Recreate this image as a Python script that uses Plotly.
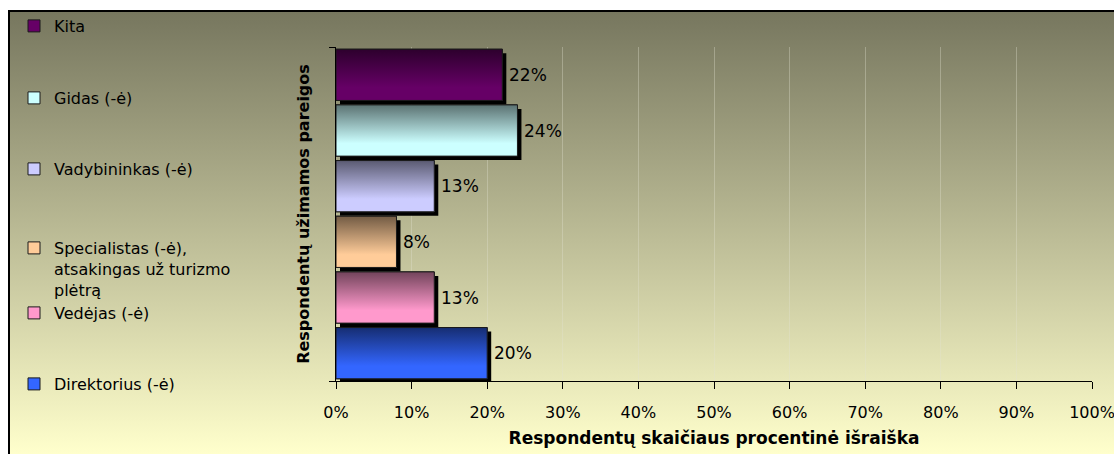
import base64
import plotly.graph_objects as go

# ---- data (bottom to top) ----
categories = ["Direktorius (-ė)", "Vedėjas (-ė)",
              "Specialistas (-ė),<br>atsakingas už turizmo<br>plėtrą",
              "Vadybininkas (-ė)", "Gidas (-ė)", "Kita"]
values = [20, 13, 8, 13, 24, 22]
base_colors = ["#3366ff", "#ff99cc", "#ffcc99", "#ccccff", "#ccffff", "#660066"]
x_ticks = list(range(0, 101, 10))
x_tick_labels = [f"{t}%" for t in x_ticks]
x_title = "Respondentų skaičiaus procentinė išraiška"
y_title = "Respondentų užimamos pareigos"

FONT = "DejaVu Sans"
W, H = 1114, 454
L, R, T, B = 336, 22, 47, 73
PW, PH = W - L - R, H - T - B
BAR_W = 0.92
SHADOW_DX = 4 * 100 / PW       # 4 px in x units
SHADOW_DY = 4 * len(categories) / PH  # 4 px in y units


def darken(hexc, f=0.45):
    h = hexc.lstrip("#")
    r, g, b = (int(h[i:i + 2], 16) for i in (0, 2, 4))
    return "#%02x%02x%02x" % (int(r * f), int(g * f), int(b * f))


def px_x(p):
    return (p - L) / PW


def px_y(p):
    return (H - B - p) / PH


fig = go.Figure()

# shadows
for i, v in enumerate(values):
    fig.add_trace(go.Bar(
        orientation="h", y=[i - SHADOW_DY], x=[v], base=[SHADOW_DX],
        width=BAR_W, marker=dict(color="black", line=dict(width=0)),
        showlegend=False, hoverinfo="skip"))

# main bars (legend)
legend_y_px = [384, 313, 242, 169, 98, 26]
for i, (c, v, col) in enumerate(zip(categories, values, base_colors)):
    fig.add_trace(go.Bar(
        orientation="h", y=[i], x=[v], width=BAR_W, name=c,
        marker=dict(color=col, line=dict(color="#1a1a1a", width=1)),
        legend="legend" if i == 0 else f"legend{i + 1}",
        hoverinfo="skip"))

# gradient overlay of each bar
for i, (v, col) in enumerate(zip(values, base_colors)):
    y0, y1 = i - BAR_W / 2, i + BAR_W / 2
    fig.add_trace(go.Scatter(
        x=[0, v, v, 0, 0], y=[y0, y0, y1, y1, y0], mode="lines",
        fill="toself",
        fillgradient=dict(type="vertical",
                          colorscale=[[0, col], [0.25, col], [1, darken(col)]]),
        line=dict(color="#1a1a1a", width=1),
        showlegend=False, hoverinfo="skip"))

# value labels
for i, v in enumerate(values):
    fig.add_annotation(x=v + SHADOW_DX, y=i, text=f"{v}%", showarrow=False,
                       xanchor="left", yanchor="middle", xshift=1,
                       font=dict(family=FONT, size=17, color="black"))

# background gradient
svg = ('<svg xmlns="http://www.w3.org/2000/svg" width="100" height="100" '
       'preserveAspectRatio="none"><defs><linearGradient id="g" x1="0" y1="0" '
       'x2="0" y2="1"><stop offset="0" stop-color="#76765e"/>'
       '<stop offset="1" stop-color="#ffffcc"/></linearGradient></defs>'
       '<rect width="100" height="100" fill="url(#g)"/></svg>')
uri = "data:image/svg+xml;base64," + base64.b64encode(svg.encode()).decode()
fig.add_layout_image(dict(source=uri, xref="paper", yref="paper",
                          x=px_x(8), y=px_y(10), sizex=(W - 8) / PW,
                          sizey=(H - 10) / PH, sizing="stretch",
                          xanchor="left", yanchor="top", layer="below"))
fig.add_shape(type="rect", xref="paper", yref="paper",
              x0=px_x(9), y0=px_y(H + 20), x1=px_x(W + 20), y1=px_y(11),
              line=dict(color="black", width=2), fillcolor="rgba(0,0,0,0)",
              layer="above")

layout_legends = {}
for i, py in enumerate(legend_y_px):
    key = "legend" if i == 0 else f"legend{i + 1}"
    if i == 2:
        ypos, yanch = px_y(py - 11), "top"
    else:
        ypos, yanch = px_y(py), "middle"
    layout_legends[key] = dict(
        x=px_x(14), y=ypos, xanchor="left", yanchor=yanch,
        bgcolor="rgba(0,0,0,0)", borderwidth=0, valign="top",
        font=dict(family=FONT, size=16, color="black"))

fig.update_layout(
    width=W, height=H,
    margin=dict(l=L, r=R, t=T, b=B, autoexpand=False),
    paper_bgcolor="white", plot_bgcolor="rgba(0,0,0,0)",
    barmode="overlay",
    showlegend=True,
    font=dict(family=FONT, size=16, color="black"),
    xaxis=dict(range=[0, 100], tickvals=x_ticks, ticktext=x_tick_labels,
               showgrid=True, gridcolor="rgba(225,225,210,0.35)", gridwidth=1,
               zeroline=False, showline=True, linecolor="black", linewidth=1,
               ticks="outside", ticklen=7, tickcolor="black",
               ticklabelstandoff=10, ticklabeloverflow="allow",
               tickfont=dict(family=FONT, size=16),
               title=dict(text=x_title, standoff=10,
                          font=dict(family=FONT, size=17, weight="bold"))),
    yaxis=dict(range=[-0.5, len(categories) - 0.5],
               tickvals=[-0.5, len(categories) - 0.5], ticktext=["", ""],
               showgrid=False, zeroline=False, showline=True,
               linecolor="black", linewidth=1, ticks="outside", ticklen=6,
               tickcolor="black",
               title=dict(text=y_title, standoff=12,
                          font=dict(family=FONT, size=16, weight="bold"))),
    **layout_legends,
)

fig.write_html("out.html", config={"displayModeBar": False},
               post_script="document.body.style.margin='0';"
                           "document.body.style.padding='0';")
